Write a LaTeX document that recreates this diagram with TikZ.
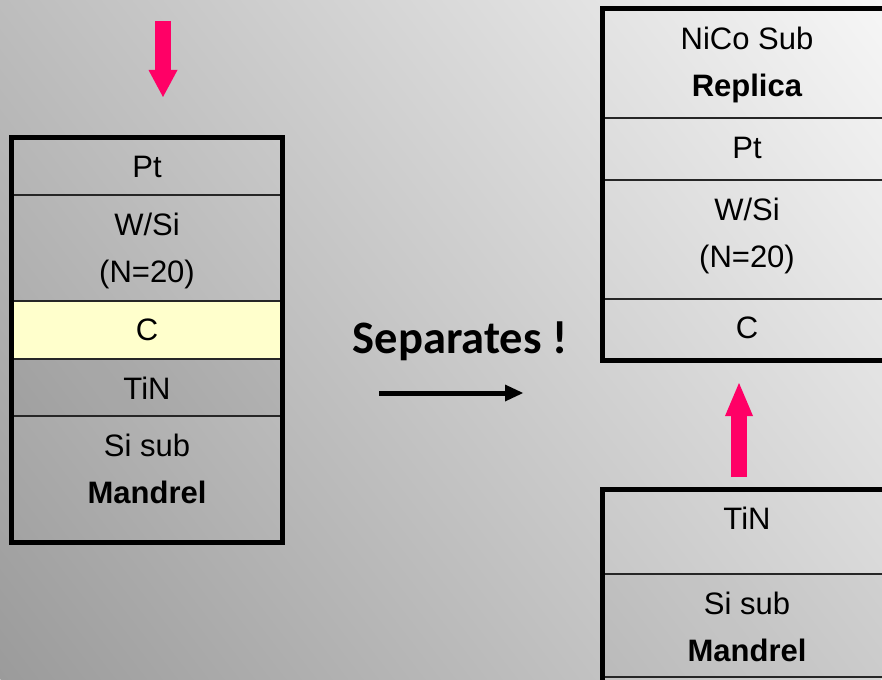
\documentclass[tikz,border=0pt]{standalone}
\usepackage{fontspec}
\setmainfont{Liberation Sans}
\newfontfamily\sepfont{Carlito}
\usetikzlibrary{arrows.meta,positioning}
\definecolor{bgdark}{RGB}{155,155,155}
\definecolor{bglight}{RGB}{246,246,246}
\definecolor{arrowpink}{RGB}{255,0,102}
\definecolor{clayer}{RGB}{255,255,204}

\begin{document}
\begin{tikzpicture}[x=1pt,y=-1pt,
  txt/.style={anchor=north,inner sep=0pt,yshift=-18pt,align=center,font=\fontsize{31}{47}\selectfont},
  cell/.style={draw=black!85,line width=2pt,inner sep=0pt,outer sep=0pt,label={[txt]north:{#1}}},
  lcell/.style={cell={#1},minimum width=271pt},
  rcell/.style={cell={#1},minimum width=289pt},
  stack/.style={draw=black,line width=5pt},
  push/.style={arrowpink,line width=16pt}]
% background
\useasboundingbox (0,0) rectangle (882,679);
\clip (0,0) rectangle (882,679);
\begin{scope}[transform canvas={rotate around={37.7:(441,339.5)}}]
\shade[left color=bgdark,right color=bglight] (-115.5,-198.8) rectangle (997.5,877.8);
\end{scope}

% mandrel before
\node[lcell=Pt,minimum height=57.5pt,anchor=north west] (lpt) at (11.5,137.5) {};
\node[lcell={W/Si\\(N=20)},minimum height=106pt,below=0pt of lpt] (lwsi) {};
\node[lcell=C,fill=clayer,minimum height=57.5pt,below=0pt of lwsi] (lc) {};
\node[lcell=TiN,fill=black,fill opacity=0.05,minimum height=57.5pt,below=0pt of lc] (ltin) {};
\node[lcell={Si sub\\\textbf{Mandrel}},minimum height=126.5pt,below=0pt of ltin] (lsi) {};
\draw[stack] (lpt.north west) rectangle (lsi.south east);

% replica
\node[rcell={NiCo Sub\\\textbf{Replica}},minimum height=109.5pt,anchor=north west] (rnico) at (602.5,9) {};
\node[rcell=Pt,minimum height=61pt,below=0pt of rnico] (rpt) {};
\node[rcell={W/Si\\(N=20)},minimum height=119pt,below=0pt of rpt] (rwsi) {};
\node[rcell=C,minimum height=61.5pt,below=0pt of rwsi] (rc) {};
\draw[stack] (rnico.north west) rectangle (rc.south east);

% mandrel after
\node[rcell=TiN,minimum height=85pt,anchor=north west] (btin) at (602.5,489) {};
\node[rcell={Si sub\\\textbf{Mandrel}},fill=black,fill opacity=0.04,minimum height=103pt,below=0pt of btin] (bsi) {};
\draw[stack,line cap=rect] (bsi.south west) -- (btin.north west) -- (btin.north east);

% arrows
\coordinate (downtop) at (163,21);
\coordinate (downtip) at (163,97);
\draw[push,-{Triangle[length=27pt,width=29pt,line width=0pt]}] (downtop) -- (downtip);
\coordinate (uptail) at (739,477);
\coordinate (uptip) at (739,383);
\draw[push,-{Triangle[length=33pt,width=28pt,line width=0pt]}] (uptail) -- (uptip);

\node[font={\sepfont\bfseries\fontsize{46.5}{56}\selectfont},anchor=base,inner sep=0pt] (sep) at (460,353) {Separates !};
\coordinate (sepfrom) at (379,393);
\coordinate (septo) at (523,393);
\draw[line width=5pt,-{Triangle[length=18pt,width=17pt,line width=0pt]}] (sepfrom) -- (septo);
\end{tikzpicture}
\end{document}
